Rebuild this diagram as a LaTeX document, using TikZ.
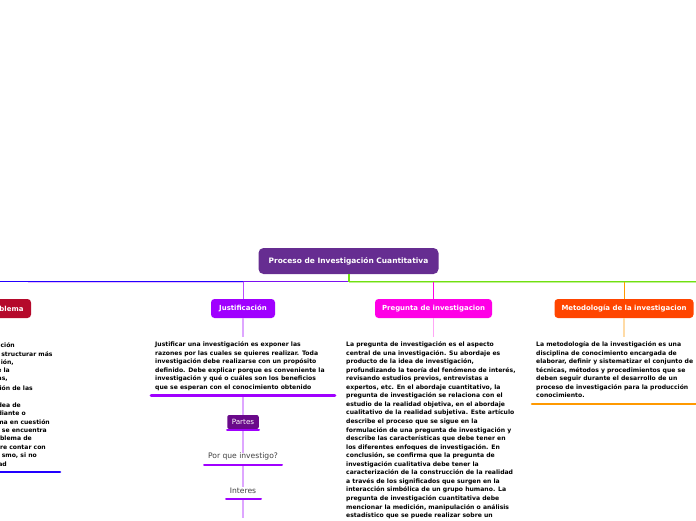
\documentclass[tikz,border=0pt]{standalone}
\usepackage{fontspec}
\setmainfont{DejaVu Sans}
\usetikzlibrary{positioning}

\definecolor{rootcol}{HTML}{662D91}
\definecolor{problemacol}{HTML}{B5092B}
\definecolor{justifcol}{HTML}{A000FF}
\definecolor{preguntacol}{HTML}{FF00E6}
\definecolor{metodocol}{HTML}{FF4500}
\definecolor{partescol}{HTML}{6A0A8A}
\definecolor{azulcol}{HTML}{2200FF}
\definecolor{moradocol}{HTML}{7A10F0}
\definecolor{naranjacol}{HTML}{FF9900}
\definecolor{verdecol}{HTML}{70E010}

\tikzset{
	box/.style={rounded corners=3.5pt, text=white, font=\bfseries\fontsize{6.95}{8}\selectfont, inner sep=0pt, minimum height=19pt},
	bodytext/.style={anchor=north west, align=left, inner sep=0pt, text=black, font=\bfseries\fontsize{6.1}{8.55}\selectfont},
	subtext/.style={inner sep=0pt, text=black!75, font=\fontsize{7.6}{9}\selectfont},
	line/.style={line width=1.2pt},
	thinline/.style={line width=0.9pt},
	soft/.style={line width=1.3pt},
	bar/.style={line width=2.6pt, line cap=round}
}

\begin{document}
\begin{tikzpicture}[x=1pt, y=-1pt]
	\useasboundingbox (0,0) rectangle (696,520);
	
	%% NODES
	% Root
	\node [box, fill=rootcol, rounded corners=5pt, font=\bfseries\fontsize{7.45}{9}\selectfont, minimum width=180pt, minimum height=26pt] (root) at (348.5,261) {Proceso de Investigación Cuantitativa};
	
	% Branches
	\node [box, fill=problemacol, minimum width=64pt] (problema) at (-1,308.5) {\hspace*{25pt}blema};
	\node [box, fill=justifcol, minimum width=64pt] (justif) at (243,308.5) {Justificación};
	\node [box, fill=preguntacol, minimum width=117pt] (pregunta) at (433.5,308.5) {Pregunta de investigacion};
	\node [box, fill=metodocol, minimum width=139pt] (metodo) at (624,308.5) {Metodología de la investigacion};
	
	% Free ends of the main line
	\coordinate (izq) at (0,281.5);
	\coordinate (der) at (696,281.5);
	\coordinate (salida) at (349,274);
	
	%% BODY TEXTS
	% Justificacion
	\node [bodytext] (justiftext) at (155,341.5) {Justificar una investigación es exponer las\\razones por las cuales se quieres realizar. Toda\\investigación debe realizarse con un propósito\\definido. Debe explicar porque es conveniente la\\investigación y qué o cuáles son los beneficios\\que se esperan con el conocimiento obtenido};
	
	% Pregunta
	\node [bodytext] (preguntatext) at (346,341.5) {La pregunta de investigación es el aspecto\\central de una investigación. Su abordaje es\\producto de la idea de investigación,\\profundizando la teoría del fenómeno de interés,\\revisando estudios previos, entrevistas a\\expertos, etc. En el abordaje cuantitativo, la\\pregunta de investigación se relaciona con el\\estudio de la realidad objetiva, en el abordaje\\cualitativo de la realidad subjetiva. Este artículo\\describe el proceso que se sigue en la\\formulación de una pregunta de investigación y\\describe las características que debe tener en\\los diferentes enfoques de investigación. En\\conclusión, se confirma que la pregunta de\\investigación cualitativa debe tener la\\caracterización de la construcción de la realidad\\a través de los significados que surgen en la\\interacción simbólica de un grupo humano. La\\pregunta de investigación cuantitativa debe\\mencionar la medición, manipulación o análisis\\estadístico que se puede realizar sobre un};
	
	% Metodologia
	\node [bodytext] (metodotext) at (536,341.5) {La metodología de la investigación es una\\disciplina de conocimiento encargada de\\elaborar, definir y sistematizar el conjunto de\\técnicas, métodos y procedimientos que se\\deben seguir durante el desarrollo de un\\proceso de investigación para la producción\\conocimiento.};
	
	% Problema, cut by the left edge
	\foreach \n/\yy/\xe/\txt in {a/345/15/ción, b/353.6/52.7/structurar más, c/362/14/{ión,}, d/370.6/10/e la, e/379/8/{as,}, f/387.8/33/ión de las, g/404.8/21/dea de, h/413/26/diante o, i/421.8/50/ma en cuestión, j/430/47/se encuentra, k/438.6/32/blema de, l/447/46/re contar con, m/455.8/37/{smo, si no}, o/464/7/ad}
	{
		\node [bodytext, anchor=east] (problema\n) at (\xe,\yy) {\txt};
	}
	
	%% SUB NODES
	\node [box, fill=partescol, rounded corners=2pt, font=\fontsize{7.2}{8}\selectfont, minimum width=31.5pt, minimum height=14pt] (partes) at (243,422) {Partes};
	\node [subtext] (porque) at (243,456.5) {Por que investigo?};
	\node [subtext] (interes) at (243,490.5) {Interes};
	
	% Coordinates on the bars
	\coordinate (jmid) at (243,395.5);
	\coordinate (pmid) at (243,464.5);
	\coordinate (imid) at (243,499);
	\coordinate (fin) at (243,518);
	
	%% CONNECTORS
	% Main line
	\draw [line, justifcol!25] (28,282.7) -- (justif.north |- 0,282.7);
	\draw [line, verdecol!45] (salida |- 0,282.7) -- (696,282.7);
	\draw [line, azulcol] (justif.north |- izq) -- (izq);
	\draw [line, moradocol] (justif.north |- izq) -- (salida |- izq);
	\draw [thinline, justifcol!70] (justif.north) -- (justif.north |- izq);
	\draw [thinline, preguntacol] (pregunta.north) -- (pregunta.north |- izq);
	\draw [thinline, naranjacol] (metodo.north) -- (metodo.north |- izq);
	\draw [line, verdecol] (salida) -- (salida |- izq) -- (der);
	
	% Below the branches
	\draw [soft, justifcol!35, shorten >=4.5pt] (justif.south) -- (justiftext.north -| justif);
	\draw [soft, preguntacol!35, shorten >=4.5pt] (pregunta.south) -- (preguntatext.north -| pregunta);
	\draw [soft, naranjacol!35, shorten >=4.5pt] (metodo.south) -- (metodotext.north -| metodo);
	\draw [soft, justifcol!35] (jmid) -- (partes.north);
	\draw [soft, justifcol!35] (partes.south) -- (porque.north);
	\draw [soft, justifcol!35] (pmid) -- (interes.north);
	\draw [soft, justifcol!35] (imid) -- (fin);
	
	%% BARS
	\draw [bar, justifcol] (151,395.5) -- (jmid) -- (335,395.5);
	\draw [bar, justifcol, line width=2pt] (227,430) -- (259,430);
	\draw [bar, justifcol, line width=2pt] (204,464.5) -- (pmid) -- (282,464.5);
	\draw [bar, justifcol, line width=2pt] (226,499) -- (imid) -- (261,499);
	\draw [bar, naranjacol] (532,404) -- (696,404);
	\draw [bar, azulcol] (0,472) -- (60,472);
	
\end{tikzpicture}
\end{document}
